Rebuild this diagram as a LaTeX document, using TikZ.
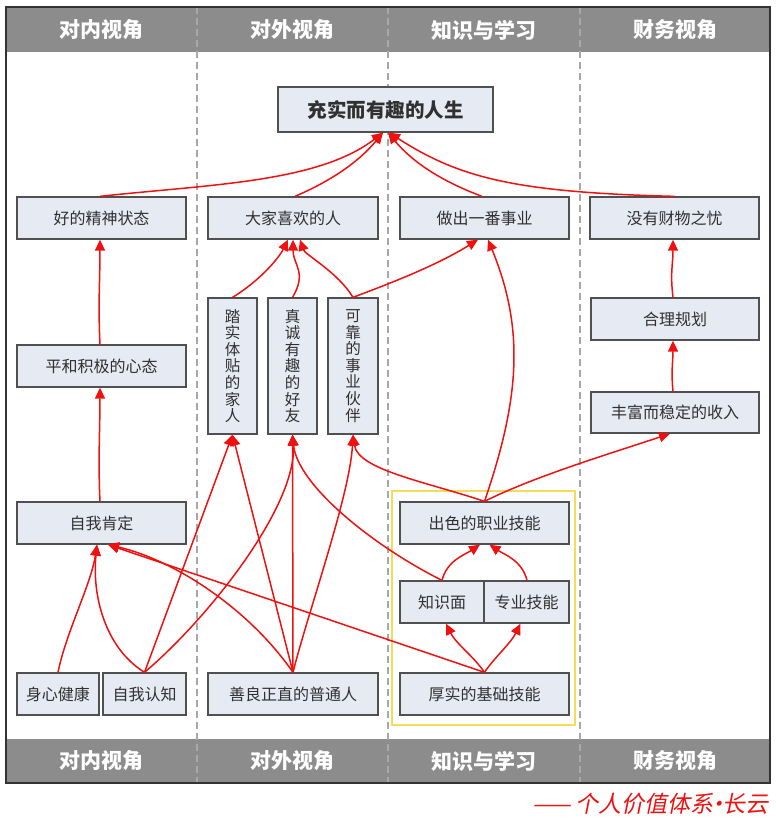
\documentclass[tikz,border=0pt]{standalone}
\usepackage{fontspec}
\setmainfont{Noto Sans CJK SC}
\newfontfamily\cjkslant[FakeSlant=0.2]{Noto Sans CJK SC}
\usetikzlibrary{arrows.meta}
\definecolor{boxfill}{HTML}{E6EAF3}
\definecolor{boxline}{HTML}{505050}
\definecolor{barfill}{HTML}{8C8C8C}
\definecolor{divline}{HTML}{A8A8A8}
\definecolor{arrred}{HTML}{F01010}
\definecolor{txt}{HTML}{303030}
\definecolor{ybox}{HTML}{F2DC5A}
\begin{document}
\begin{tikzpicture}[x=1pt,y=-1pt,
  nbox/.style={draw=boxline,fill=boxfill,line width=1.3pt,inner sep=0pt,text=txt,
    font=\fontsize{16}{18}\selectfont},
  vbox/.style={nbox,align=center,minimum width=49pt,minimum height=136pt,
    font=\fontsize{15.5}{16.6}\selectfont},
  hdr/.style={text=white,font=\fontsize{21}{24}\selectfont\bfseries},
  arr/.style={draw=arrred,line width=1.5pt,-{Triangle[length=11pt,width=10pt]}},
  divider/.style={draw=divline,line width=1.1pt,dash pattern=on 7pt off 4pt}
]
\useasboundingbox (0,0) rectangle (776,823);
% bars and frame
\fill[barfill] (6,7) rectangle (770,52);
\fill[barfill] (6,739) rectangle (770,783);
\foreach \xx in {197,388,580}{\draw[divider] (\xx,7) -- (\xx,783);}
\draw[draw=black!80,line width=1.2pt] (6,7) rectangle (770,783);
% headers
\node[hdr] (h1) at (101.5,30) {对内视角};
\node[hdr] (h2) at (292.5,30) {对外视角};
\node[hdr] (h3) at (484,30) {知识与学习};
\node[hdr] (h4) at (675,30) {财务视角};
\node[hdr] (f1) at (101.5,761) {对内视角};
\node[hdr] (f2) at (292.5,761) {对外视角};
\node[hdr] (f3) at (484,761) {知识与学习};
\node[hdr] (f4) at (675,761) {财务视角};
% caption
\node[anchor=east,text=arrred,font=\fontsize{23}{26}\selectfont\cjkslant] (cap) at (772,804) {——\,个人价值体系\kern-0.3em·\kern-0.3em长云};
% yellow group
\draw[draw=ybox,line width=1.3pt] (392,491) rectangle (575,725);
% nodes
\node[nbox,minimum width=215pt,minimum height=45pt,font=\fontsize{19.5}{22}\selectfont\bfseries] (top) at (385.5,109.5) {充实而有趣的人生};
\node[nbox,minimum width=169pt,minimum height=42pt] (hs) at (101.5,218) {好的精神状态};
\node[nbox,minimum width=170pt,minimum height=42pt] (dj) at (293,218) {大家喜欢的人};
\node[nbox,minimum width=169pt,minimum height=42pt] (zc) at (484.5,218) {做出一番事业};
\node[nbox,minimum width=169pt,minimum height=42pt] (mc) at (674.5,218) {没有财物之忧};
\node[nbox,minimum width=169pt,minimum height=42pt] (ph) at (101.5,366) {平和积极的心态};
\node[nbox,minimum width=169pt,minimum height=42pt] (zk) at (101.5,523) {自我肯定};
\node[nbox,minimum width=82pt,minimum height=42pt] (sx) at (58,694) {身心健康};
\node[nbox,minimum width=83pt,minimum height=42pt] (zr) at (144.5,694) {自我认知};
\node[nbox,minimum width=170pt,minimum height=42pt] (sl) at (293,694) {善良正直的普通人};
\node[vbox] (ts) at (232.5,366) {踏\\实\\体\\贴\\的\\家\\人};
\node[vbox] (zy) at (292.5,366) {真\\诚\\有\\趣\\的\\好\\友};
\node[vbox,minimum width=50pt] (kk) at (353,366) {可\\靠\\的\\事\\业\\伙\\伴};
\node[nbox,minimum width=168pt,minimum height=42pt] (hl) at (675,319) {合理规划};
\node[nbox,minimum width=168pt,minimum height=41pt] (ff) at (675,412.5) {丰富而稳定的收入};
\node[nbox,minimum width=169pt,minimum height=42pt] (cs) at (484.5,523) {出色的职业技能};
\node[nbox,minimum width=84pt,minimum height=42pt] (zs) at (442,602) {知识面};
\node[nbox,minimum width=85pt,minimum height=42pt] (zj) at (526.5,602) {专业技能};
\node[nbox,minimum width=169pt,minimum height=42pt] (hj) at (484.5,694) {厚实的基础技能};
% connectors to top
\draw[arr] ([xshift=-1.5pt]hs.north) .. controls +(110,-12) and +(-65,50) .. ([xshift=-2.5pt]top.south);
\draw[arr] ([xshift=2pt]dj.north) .. controls +(35,-15) and +(-25,30) .. ([xshift=-2.5pt]top.south);
\draw[arr] ([xshift=-2.5pt]zc.north) .. controls +(-40,-15) and +(25,30) .. ([xshift=2.5pt]top.south);
\draw[arr] (mc.north) .. controls +(-160,-4) and +(70,45) .. ([xshift=3.5pt]top.south);
% left column
\draw[arr] ([xshift=-1.5pt]ph.north) .. controls +(-2,-40) and +(0,40) .. ([xshift=-1.5pt]hs.south);
\draw[arr] ([xshift=-1.5pt]zk.north) .. controls +(-2,-40) and +(0,40) .. ([xshift=-1.5pt]ph.south);
\draw[arr] (sx.north) .. controls +(8,-40) and +(-6,40) .. ([xshift=-4.5pt]zk.south);
\draw[arr] (zr.north) .. controls +(-40,-25) and +(-5,50) .. ([xshift=-4.5pt]zk.south);
\draw[arr] (zr.north) -- (ts.south);
\draw[arr] (zr.north) .. controls +(65,-55) and +(5,70) .. (zy.south);
\draw[arr] (sl.north) .. controls +(-45,-65) and +(65,15) .. ([xshift=6.5pt]zk.south);
\draw[arr] (hj.north) -- ([xshift=6.5pt]zk.south);
% middle column
\draw[arr] (sl.north) -- (ts.south);
\draw[arr] (sl.north) -- (zy.south);
\draw[arr] (sl.north) .. controls +(15,-60) and +(-3,60) .. (kk.south);
\draw[arr] (zs.north) .. controls +(-70,-35) and +(5,50) .. (zy.south);
\draw[arr] (ts.north) .. controls +(25,-15) and +(-10,20) .. ([xshift=-5pt]dj.south);
\draw[arr] (zy.north) .. controls +(15,-25) and +(0,25) .. (dj.south);
\draw[arr] (kk.north) .. controls +(-15,-25) and +(5,15) .. ([xshift=7pt]dj.south);
\draw[arr] (kk.north) .. controls +(40,-15) and +(-40,25) .. ([xshift=-6.5pt]zc.south);
% knowledge column
\draw[arr] (zs.north) .. controls +(5,-20) and +(-15,10) .. ([xshift=-4.5pt]cs.south);
\draw[arr] ([xshift=0.5pt]zj.north) .. controls +(-5,-20) and +(15,10) .. ([xshift=5pt]cs.south);
\draw[arr] (hj.north) .. controls +(-10,-15) and +(10,20) .. ([xshift=4pt]zs.south);
\draw[arr] (hj.north) .. controls +(10,-15) and +(-10,20) .. ([xshift=-6pt]zj.south);
\draw[arr] (cs.north) .. controls +(35,-102) and +(37,90) .. ([xshift=3.5pt]zc.south);
\draw[arr] (cs.north) .. controls +(-60,-20) and +(5,35) .. (kk.south);
\draw[arr] (cs.north) .. controls +(50,-25) and +(-60,20) .. ([xshift=-5pt]ff.south);
% finance column
\draw[arr] ([xshift=-2pt]ff.north) .. controls +(-2,-20) and +(0,20) .. ([xshift=-2pt]hl.south);
\draw[arr] ([xshift=-2pt]hl.north) .. controls +(-3,-25) and +(0,25) .. ([xshift=-1.5pt]mc.south);
\end{tikzpicture}
\end{document}
